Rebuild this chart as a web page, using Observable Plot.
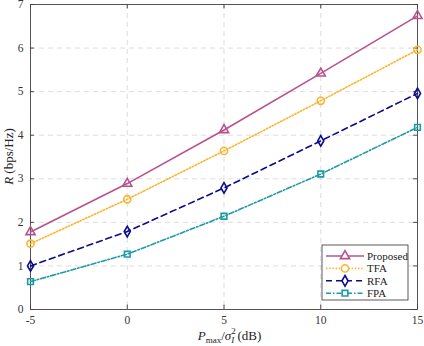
<!DOCTYPE html>
<html>
<head>
<meta charset="utf-8">
<script src="https://cdn.jsdelivr.net/npm/d3@7"></script>
<script src="https://cdn.jsdelivr.net/npm/@observablehq/plot@0.6"></script>
<style>
  html, body { margin: 0; padding: 0; background: #fff; }
  #chart { width: 424px; height: 346px; }
</style>
</head>
<body>
<div id="chart"></div>
<script>
const snrDb = [-5, 0, 5, 10, 15];
const proposed = [1.78, 2.89, 4.12, 5.42, 6.74];
const tfa = [1.51, 2.53, 3.64, 4.79, 5.96];
const rfa = [1.00, 1.79, 2.79, 3.87, 4.96];
const fpa = [0.64, 1.27, 2.14, 3.11, 4.18];
const seriesNames = ["Proposed", "TFA", "RFA", "FPA"];
const xTicks = [-5, 0, 5, 10, 15];
const yTicks = [0, 1, 2, 3, 4, 5, 6, 7];

const styles = {
  Proposed: {color: "#b8528f", dash: null, symbol: "triangle", r: 3.4},
  TFA: {color: "#fcb42e", dash: "1.4,1.8", symbol: "circle", r: 3.6},
  RFA: {color: "#0b0b8c", dash: "6,4", symbol: "diamond", r: 3.2},
  FPA: {color: "#1d9aa8", dash: "5,2,1.5,2", symbol: "square", r: 3.2}
};
const valuesBySeries = {Proposed: proposed, TFA: tfa, RFA: rfa, FPA: fpa};
const rows = seriesNames.flatMap(s => snrDb.map((x, i) => ({series: s, x, y: valuesBySeries[s][i]})));

const W = 424, H = 346;
const mL = 30, mR = 7, mT = 4, mB = 37;
const font = "Liberation Serif, DejaVu Serif, serif";
const axisColor = "#444";

const marks = [
  Plot.gridX(xTicks, {stroke: "#d4d4d4", strokeOpacity: 1, strokeDasharray: "5,4", strokeWidth: 0.8}),
  Plot.gridY(yTicks, {stroke: "#d4d4d4", strokeOpacity: 1, strokeDasharray: "5,4", strokeWidth: 0.8}),
  Plot.frame({stroke: axisColor, strokeWidth: 0.9}),
  Plot.ruleX(xTicks, {x: d => d, y1: 0, y2: 0.1, stroke: axisColor}),
  Plot.ruleX(xTicks, {x: d => d, y1: 6.9, y2: 7, stroke: axisColor}),
  Plot.ruleY(yTicks, {y: d => d, x1: -5, x2: -4.8, stroke: axisColor}),
  Plot.ruleY(yTicks, {y: d => d, x1: 14.8, x2: 15, stroke: axisColor})
];
for (const s of seriesNames) {
  const st = styles[s];
  const data = rows.filter(d => d.series === s);
  marks.push(Plot.line(data, {x: "x", y: "y", stroke: st.color, strokeWidth: 1.6, strokeDasharray: st.dash}));
  marks.push(Plot.dot(data, {x: "x", y: "y", symbol: () => st.symbol, r: st.r, stroke: st.color, strokeWidth: 1.6, fill: "none"}));
}

const chart = Plot.plot({
  width: W, height: H,
  marginLeft: mL, marginRight: mR, marginTop: mT, marginBottom: mB,
  style: {fontFamily: font, fontSize: "11.5px", color: "#333", background: "#fff"},
  x: {domain: [-5, 15], ticks: xTicks, tickSize: 0, tickPadding: 6, label: null, tickFormat: d => String(d)},
  y: {domain: [0, 7], ticks: yTicks, tickSize: 0, tickPadding: 7, label: null, tickFormat: d => String(d)},
  symbol: {type: "identity"},
  marks
});
document.getElementById("chart").appendChild(chart);

const svg = d3.select(chart);
svg.attr("font-family", font);
const xs = chart.scale("x"), ys = chart.scale("y");
// Axis labels with sub/superscripts
const cx = (xs.apply(-5) + xs.apply(15)) / 2;
const xl = svg.append("text").attr("x", cx + 6).attr("y", H - 6).attr("text-anchor", "middle")
  .attr("font-family", font).attr("font-size", 13).attr("fill", "#222");
xl.append("tspan").attr("font-style", "italic").text("P");
xl.append("tspan").attr("font-size", 9).attr("dy", 2.5).text("max");
xl.append("tspan").attr("dy", -2.5).text("/");
xl.append("tspan").attr("font-style", "italic").text("σ");
xl.append("tspan").attr("font-size", 9).attr("dy", -6).text("2");
xl.append("tspan").attr("font-size", 9).attr("font-style", "italic").attr("dx", -4.5).attr("dy", 9).text("I");
xl.append("tspan").attr("dy", -3).text(" (dB)");

const cy = (ys.apply(0) + ys.apply(7)) / 2;
const yl = svg.append("text").attr("transform", `translate(13,${cy}) rotate(-90)`).attr("text-anchor", "middle")
  .attr("font-family", font).attr("font-size", 13).attr("fill", "#222");
yl.append("tspan").attr("font-style", "italic").text("R");
yl.append("tspan").text(" (bps/Hz)");

// Legend
const lg = svg.append("g").attr("transform", "translate(322,245)");
lg.append("rect").attr("width", 86).attr("height", 55).attr("fill", "#fff").attr("stroke", "#333").attr("stroke-width", 0.8);
seriesNames.forEach((s, i) => {
  const st = styles[s];
  const yy = 11 + i * 12.4;
  lg.append("line").attr("x1", 4).attr("x2", 42).attr("y1", yy).attr("y2", yy)
    .attr("stroke", st.color).attr("stroke-width", 1.6).attr("stroke-dasharray", st.dash);
  const sym = {triangle: d3.symbolTriangle, circle: d3.symbolCircle, diamond: d3.symbolDiamond, square: d3.symbolSquare}[st.symbol];
  const area = Math.PI * st.r * st.r;
  lg.append("path").attr("d", d3.symbol(sym, area)()).attr("transform", `translate(23,${yy})`)
    .attr("fill", "#fff").attr("stroke", st.color).attr("stroke-width", 1.6);
  lg.append("text").attr("x", 45).attr("y", yy + 4).attr("text-anchor", "start")
    .attr("font-family", font).attr("font-size", 11).attr("fill", "#222").text(s);
});
</script>
</body>
</html>
